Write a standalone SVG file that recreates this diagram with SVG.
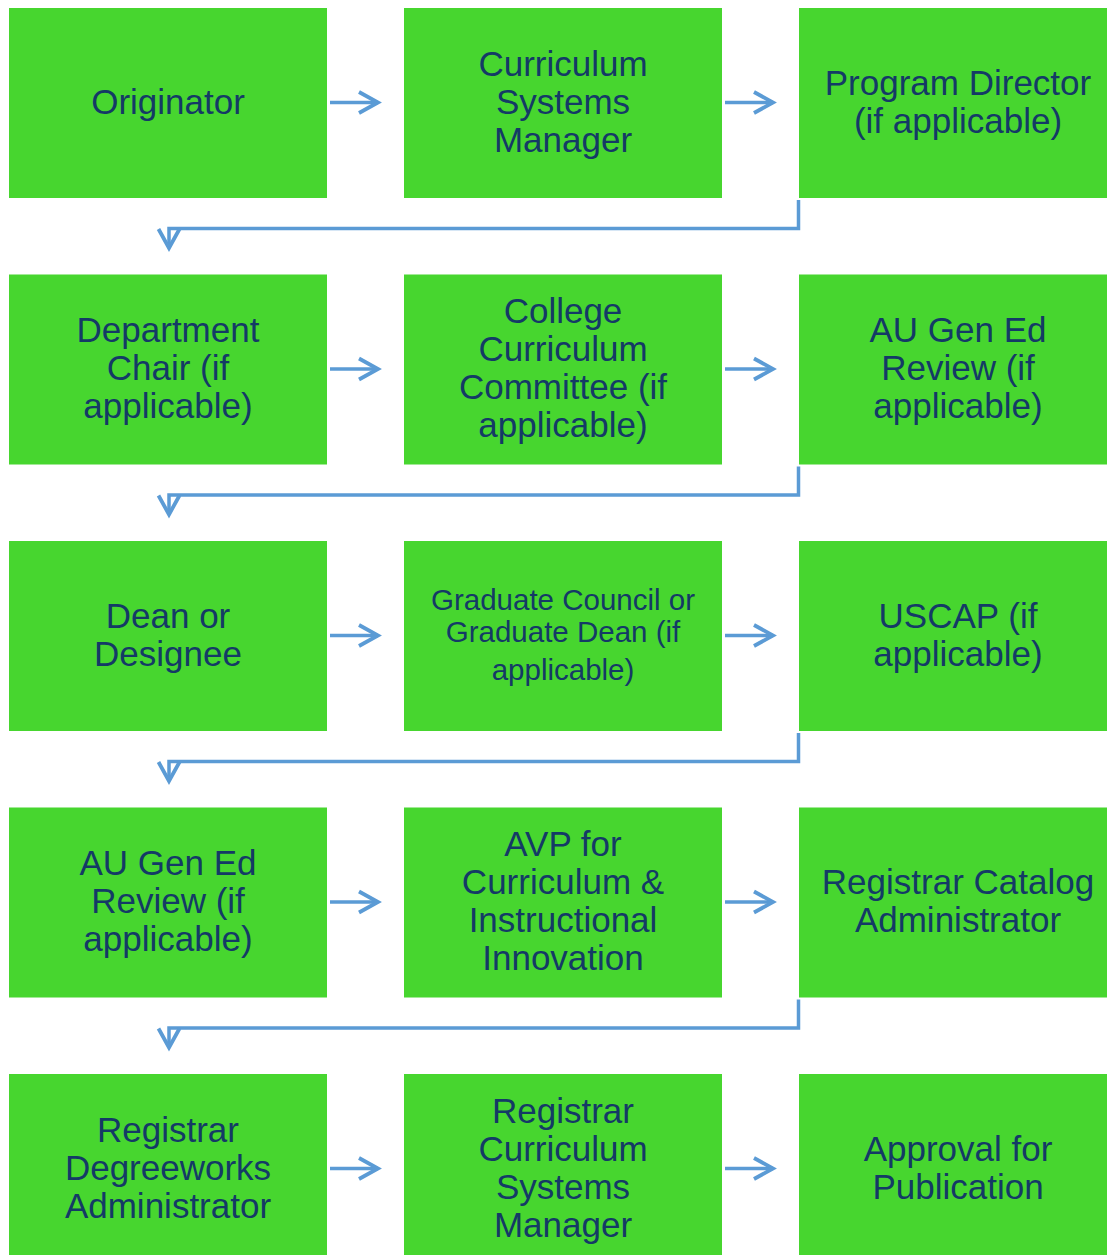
<svg xmlns="http://www.w3.org/2000/svg" width="1107" height="1255" viewBox="0 0 1107 1255">
<style>
.box{fill:#47D62F}
.t{font-family:"Liberation Sans",Arial,sans-serif;font-size:35px;fill:#143A66;text-anchor:middle}
.s{font-size:29.5px}
.c{fill:none;stroke:#5B9BD5;stroke-width:3.5;marker-end:url(#ah)}
</style>
<defs>
<marker id="ah" markerUnits="userSpaceOnUse" viewBox="-24 -14 28 28" markerWidth="28" markerHeight="28" refX="0" refY="0" orient="auto" overflow="visible">
<path d="M-19,-10.5 L0,0 L-19,10.5" fill="none" stroke="#5B9BD5" stroke-width="3.8"/>
</marker>
</defs>
<rect width="1107" height="1255" fill="#fff"/>
<g id="n1"><rect class="box" x="9" y="8" width="318" height="190"/><text class="t" x="168" y="114">Originator</text></g>
<g id="n2"><rect class="box" x="404" y="8" width="318" height="190"/><text class="t" x="563" y="76">Curriculum</text><text class="t" x="563" y="114">Systems</text><text class="t" x="563" y="152">Manager</text></g>
<g id="n3"><rect class="box" x="799" y="8" width="318" height="190"/><text class="t" x="958" y="95">Program Director</text><text class="t" x="958" y="133">(if applicable)</text></g>
<g id="n4"><rect class="box" x="9" y="274.5" width="318" height="190"/><text class="t" x="168" y="342">Department</text><text class="t" x="168" y="380">Chair (if</text><text class="t" x="168" y="418">applicable)</text></g>
<g id="n5"><rect class="box" x="404" y="274.5" width="318" height="190"/><text class="t" x="563" y="323">College</text><text class="t" x="563" y="361">Curriculum</text><text class="t" x="563" y="399">Committee (if</text><text class="t" x="563" y="437">applicable)</text></g>
<g id="n6"><rect class="box" x="799" y="274.5" width="318" height="190"/><text class="t" x="958" y="342">AU Gen Ed</text><text class="t" x="958" y="380">Review (if</text><text class="t" x="958" y="418">applicable)</text></g>
<g id="n7"><rect class="box" x="9" y="541" width="318" height="190"/><text class="t" x="168" y="628">Dean or</text><text class="t" x="168" y="666">Designee</text></g>
<g id="n8"><rect class="box" x="404" y="541" width="318" height="190"/><text class="t s" x="563" y="610">Graduate Council or</text><text class="t s" x="563" y="642">Graduate Dean (if</text><text class="t s" x="563" y="680">applicable)</text></g>
<g id="n9"><rect class="box" x="799" y="541" width="318" height="190"/><text class="t" x="958" y="628">USCAP (if</text><text class="t" x="958" y="666">applicable)</text></g>
<g id="n10"><rect class="box" x="9" y="807.5" width="318" height="190"/><text class="t" x="168" y="875">AU Gen Ed</text><text class="t" x="168" y="913">Review (if</text><text class="t" x="168" y="951">applicable)</text></g>
<g id="n11"><rect class="box" x="404" y="807.5" width="318" height="190"/><text class="t" x="563" y="856">AVP for</text><text class="t" x="563" y="894">Curriculum &amp;</text><text class="t" x="563" y="932">Instructional</text><text class="t" x="563" y="970">Innovation</text></g>
<g id="n12"><rect class="box" x="799" y="807.5" width="318" height="190"/><text class="t" x="958" y="894">Registrar Catalog</text><text class="t" x="958" y="932">Administrator</text></g>
<g id="n13"><rect class="box" x="9" y="1074" width="318" height="190"/><text class="t" x="168" y="1142">Registrar</text><text class="t" x="168" y="1180">Degreeworks</text><text class="t" x="168" y="1218">Administrator</text></g>
<g id="n14"><rect class="box" x="404" y="1074" width="318" height="190"/><text class="t" x="563" y="1123">Registrar</text><text class="t" x="563" y="1161">Curriculum</text><text class="t" x="563" y="1199">Systems</text><text class="t" x="563" y="1237">Manager</text></g>
<g id="n15"><rect class="box" x="799" y="1074" width="318" height="190"/><text class="t" x="958" y="1161">Approval for</text><text class="t" x="958" y="1199">Publication</text></g>
<g id="connectors">
<path class="c" d="M330,102.5 H378"/>
<path class="c" d="M725,102.5 H773"/>
<path class="c" d="M798.5,200 V228.5 H169 V248"/>
<path class="c" d="M330,369 H378"/>
<path class="c" d="M725,369 H773"/>
<path class="c" d="M798.5,466.5 V495 H169 V514.5"/>
<path class="c" d="M330,635.5 H378"/>
<path class="c" d="M725,635.5 H773"/>
<path class="c" d="M798.5,733 V761.5 H169 V781"/>
<path class="c" d="M330,902 H378"/>
<path class="c" d="M725,902 H773"/>
<path class="c" d="M798.5,999.5 V1028 H169 V1047.5"/>
<path class="c" d="M330,1168.5 H378"/>
<path class="c" d="M725,1168.5 H773"/>
</g>
</svg>
